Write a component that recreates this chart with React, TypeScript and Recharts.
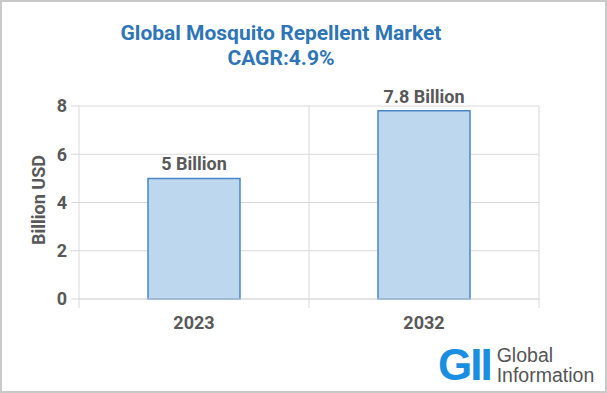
import React from 'react';
import { BarChart, Bar, XAxis, YAxis, CartesianGrid, LabelList } from 'recharts';

const years = ['2023', '2032'];
const values = [5, 7.8];
const valueLabels = ['5 Billion', '7.8 Billion'];
const yTicks = [0, 2, 4, 6, 8];

const data = years.map((year, i) => ({ year, value: values[i], label: valueLabels[i] }));

const FONT = '"Roboto", "Liberation Sans", sans-serif';
const GRAY = '#595959';
const BLUE = '#2e75b6';

const W = 607;
const H = 393;
const M = { top: 106, right: 68, bottom: 64, left: 49 };
const Y_AXIS_W = 30;
const X_AXIS_H = 30;
const plotW = W - M.left - Y_AXIS_W - M.right;
const band = plotW / years.length;

const XTick = (props: any) => {
  const { x, y, payload } = props;
  return (
    <g>
      <line x1={x + band / 2} y1={y - 8} x2={x + band / 2} y2={y + 1} stroke="#d9d9d9" />
      {payload.index === 0 && (
        <line x1={x - band / 2} y1={y - 8} x2={x - band / 2} y2={y + 1} stroke="#d9d9d9" />
      )}
      <text x={x} y={y + 22} textAnchor="middle" fill={GRAY} fontFamily={FONT} fontWeight="bold" fontSize={18}>
        {payload.value}
      </text>
    </g>
  );
};

export default function App() {
  return (
    <div style={{ position: 'fixed', left: 0, top: 0, width: W, height: H, background: '#fff', overflow: 'hidden' }}>
      <div style={{ position: 'absolute', left: 0, top: 0 }}>
        <BarChart width={W} height={H} data={data} margin={M} barCategoryGap="30%">
          <CartesianGrid
            stroke="#d9d9d9"
            verticalCoordinatesGenerator={({ offset }: any) => [offset.left + offset.width / 2, offset.left + offset.width]}
          />
          <XAxis
            dataKey="year"
            height={X_AXIS_H}
            axisLine={{ stroke: '#d9d9d9' }}
            tickLine={false}
            tick={<XTick />}
            interval={0}
          />
          <YAxis
            width={Y_AXIS_W}
            domain={[0, 8]}
            ticks={yTicks}
            axisLine={{ stroke: '#d9d9d9' }}
            tickLine={{ stroke: '#d9d9d9' }}
            tickSize={8}
            tickMargin={4}
            tick={{ fill: GRAY, fontFamily: FONT, fontWeight: 'bold', fontSize: 18 }}
          />
          <Bar dataKey="value" fill="#bdd7ee" stroke="#4a86c5" strokeWidth={1.5} isAnimationActive={false}>
            <LabelList dataKey="label" position="top" offset={8} fill={GRAY} fontFamily={FONT} fontWeight="bold" fontSize={18} />
          </Bar>
        </BarChart>
      </div>
      <div style={{ position: 'absolute', left: 0, top: 0, width: W, height: H, boxSizing: 'border-box', border: '2px solid #c9c9c9', pointerEvents: 'none' }} />
      <div style={{ position: 'absolute', left: 0, width: 562, top: 21, textAlign: 'center', color: BLUE, fontFamily: FONT, fontWeight: 'bold', fontSize: 21, lineHeight: '25px' }}>
        Global Mosquito Repellent Market
        <br />
        CAGR:4.9%
      </div>
      <div style={{ position: 'absolute', left: 38, top: 200, transform: 'translate(-50%, -50%) rotate(-90deg)', whiteSpace: 'nowrap', color: GRAY, fontFamily: FONT, fontWeight: 'bold', fontSize: 18 }}>
        Billion USD
      </div>
      <div style={{ position: 'absolute', left: 438, top: 345, display: 'flex', alignItems: 'center' }}>
        <span style={{ color: '#1a8ee0', fontFamily: '"Liberation Sans", Arial, sans-serif', fontWeight: 'bold', fontSize: 44, letterSpacing: -2, lineHeight: '40px' }}>GII</span>
        <span style={{ marginLeft: 6, color: '#555', fontFamily: '"Liberation Sans", Arial, sans-serif', fontSize: 19.5, lineHeight: '20px' }}>
          Global
          <br />
          Information
        </span>
      </div>
    </div>
  );
}
